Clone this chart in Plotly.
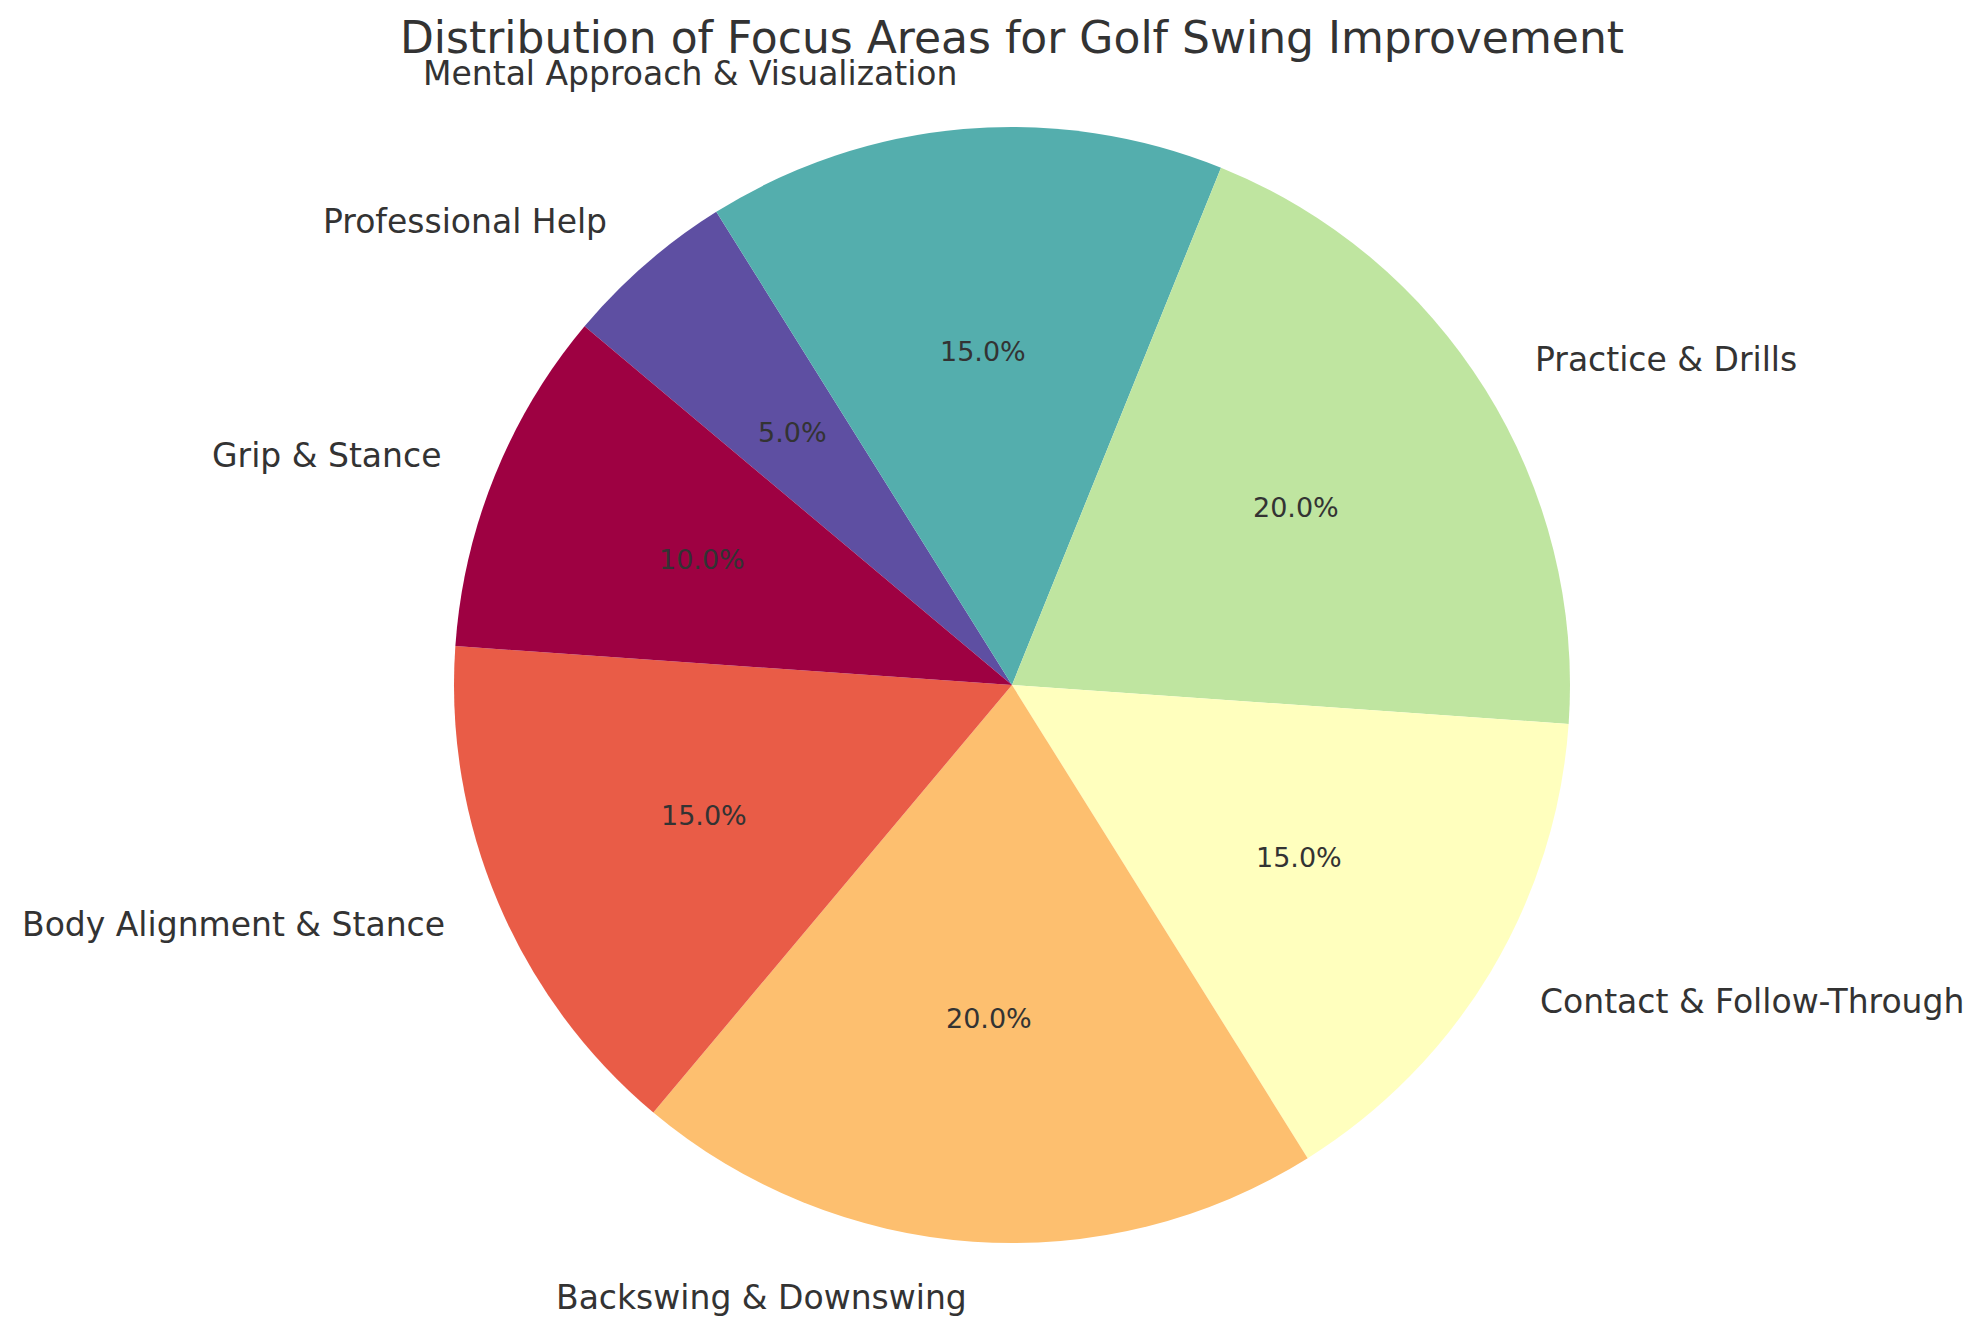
import numpy as np
import plotly.graph_objects as go

# 数据
labels = ['Grip & Stance', 'Body Alignment & Stance', 'Backswing & Downswing',
          'Contact & Follow-Through', 'Practice & Drills',
          'Mental Approach & Visualization', 'Professional Help']
values = [10, 15, 20, 15, 20, 15, 5]
colors = ['#9e0142', '#e95c47', '#fdbf6f', '#ffffbe', '#bfe5a0', '#54aead', '#5e4fa2']

W, H = 1987, 1334
OFF = 8                           # 页面 body 默认 8px 边距
CX, CY, R = 1012 - OFF, 685 - OFF, 558   # pie center / radius in px
START = 140                       # start angle (deg, ccw from 3 o'clock)
TXT = '#333333'

dom_x = [(CX - R) / W, (CX + R) / W]
dom_y = [1 - (CY + R) / H, 1 - (CY - R) / H]

# plotly 的逆时针起点不好控制 -> 反序后顺时针画，效果与 matplotlib startangle=140 一致
fig = go.Figure(go.Pie(labels=labels[::-1], values=values[::-1], sort=False,
                       direction='clockwise', rotation=90 - START,
                       marker=dict(colors=colors[::-1], line=dict(width=0)),
                       textinfo='none', hoverinfo='label+percent',
                       domain=dict(x=dom_x, y=dom_y), showlegend=False))

# 标签与百分比（按切片中角度放置，仿 matplotlib 的 labeldistance=1.1, pctdistance=0.6）
tot = float(sum(values))
cum = 0.0
annos = []
for lab, v in zip(labels, values):
    mid = np.deg2rad(START + 360 * (cum + v / 2) / tot)
    cum += v
    cx, cy = np.cos(mid), np.sin(mid)
    annos.append(dict(x=(CX + 1.1 * R * cx) / W, y=1 - (CY - 1.1 * R * cy) / H,
                      xref='paper', yref='paper', text=lab, showarrow=False,
                      xanchor='left' if cx > 0 else 'right', yanchor='middle',
                      font=dict(size=33, color=TXT)))
    annos.append(dict(x=(CX + 0.6 * R * cx) / W, y=1 - (CY - 0.6 * R * cy) / H,
                      xref='paper', yref='paper', text=f"{100 * v / tot:.1f}%", showarrow=False,
                      xanchor='center', yanchor='middle',
                      font=dict(size=27, color=TXT)))

fig.update_layout(
    title=dict(text="Distribution of Focus Areas for Golf Swing Improvement",
               x=CX / W, xanchor='center', y=1 - (38 - OFF) / H, yanchor='middle',
               font=dict(size=44, color=TXT)),
    annotations=annos,
    width=W, height=H, margin=dict(l=0, r=0, t=0, b=0),
    paper_bgcolor='white', plot_bgcolor='white',
    font=dict(family='DejaVu Sans', color=TXT),
)

fig.write_html("out.html")
